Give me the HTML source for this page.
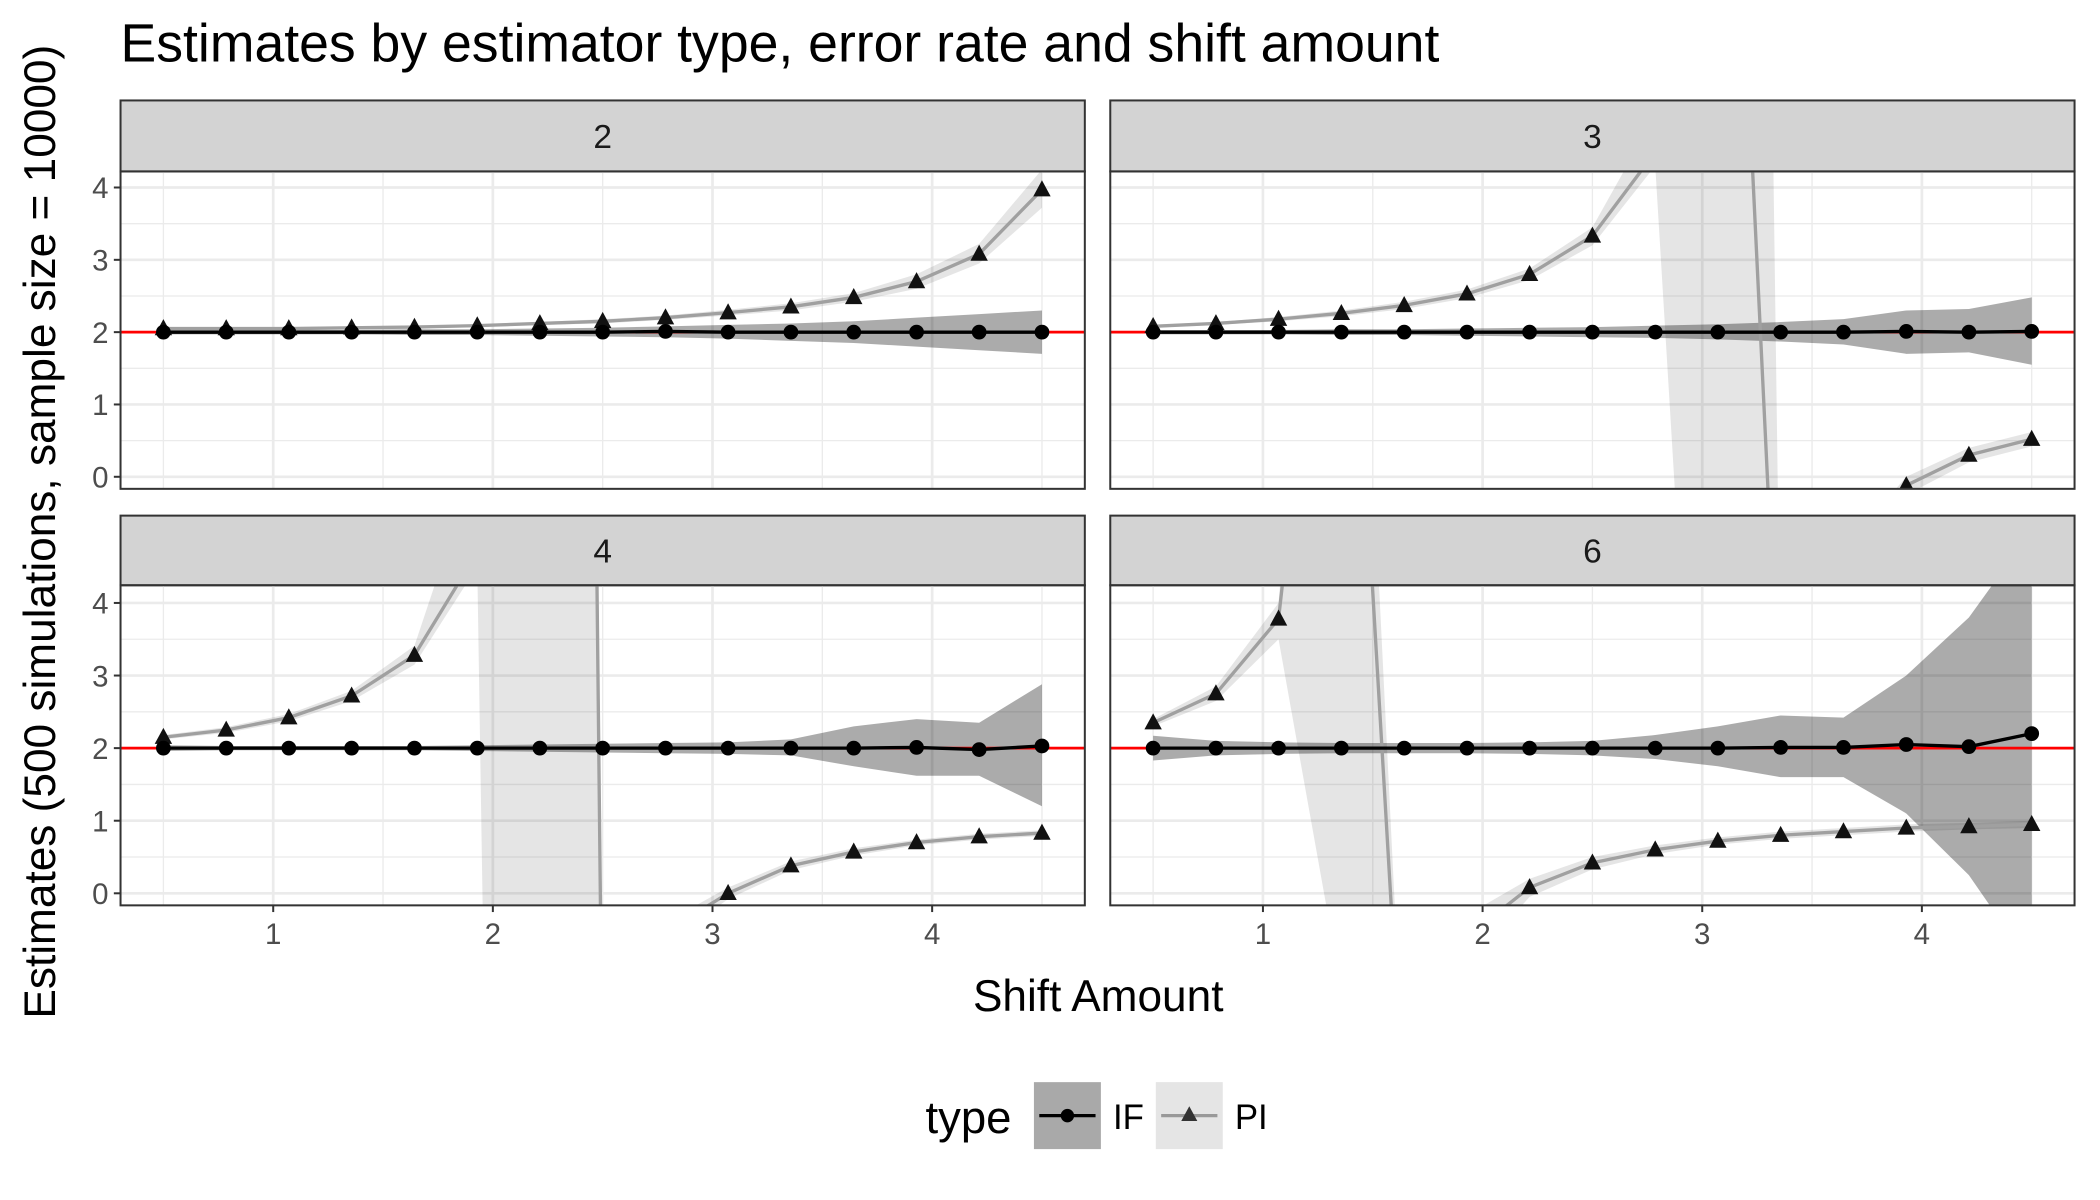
<!DOCTYPE html>
<html><head><meta charset="utf-8"><style>
html,body{margin:0;padding:0;background:#fff;overflow:hidden;width:2100px;height:1200px;}
svg{display:block;}
text{font-family:"Liberation Sans",sans-serif;}
</style></head><body>
<svg id="chart" width="2100" height="1200" viewBox="0 0 1568 896" preserveAspectRatio="none" xmlns="http://www.w3.org/2000/svg">
<rect width="1568" height="896" fill="#fff"/>
<text x="90" y="46" font-size="40" fill="#000">Estimates by estimator type, error rate and shift amount</text>
<text transform="translate(41,397) rotate(-90)" text-anchor="middle" font-size="33" fill="#000">Estimates (500 simulations, sample size = 10000)</text>
<text x="820" y="755" text-anchor="middle" font-size="33" fill="#000">Shift Amount</text>
<g id="panels"></g>
<g>
<text x="691" y="846" font-size="34" fill="#000">type</text>
<rect x="772" y="808" width="50" height="50" fill="#a9a9a9"/>
<line x1="776" y1="833" x2="818" y2="833" stroke="#000" stroke-width="2.5"/>
<circle cx="797" cy="833" r="5" fill="#000"/>
<text x="831" y="843" font-size="26" fill="#000">IF</text>
<rect x="863" y="808" width="50" height="50" fill="#e5e5e5"/>
<line x1="867" y1="833" x2="909" y2="833" stroke="#999" stroke-width="2.5"/>
<polygon points="888,826 894,837 882,837" fill="#333"/>
<text x="922" y="843" font-size="26" fill="#000">PI</text>
</g>
</svg>
<script>
const xs=[0.5,0.786,1.071,1.357,1.643,1.929,2.214,2.5,2.786,3.071,3.357,3.643,3.929,4.214,4.5];
const panelLabels=["2","3","4","6"];
const xTicks=[1,2,3,4];
const yTicks=[0,1,2,3,4];
const refValue=2;

const if2=[2,2,2,2,2,2,2,2,2.01,2,2,2,2,2,2];
const if2Lo=[1.97,1.97,1.97,1.97,1.96,1.96,1.95,1.94,1.93,1.91,1.88,1.85,1.8,1.75,1.7];
const if2Hi=[2.03,2.03,2.03,2.03,2.04,2.04,2.05,2.06,2.08,2.1,2.12,2.15,2.2,2.25,2.3];
const pi2=[2.05,2.05,2.05,2.06,2.07,2.09,2.12,2.15,2.2,2.27,2.35,2.48,2.7,3.08,3.97];
const pi2Lo=[2.03,2.03,2.03,2.04,2.05,2.07,2.1,2.12,2.17,2.23,2.3,2.42,2.6,2.95,3.72];
const pi2Hi=[2.07,2.07,2.07,2.08,2.09,2.11,2.14,2.18,2.23,2.31,2.4,2.54,2.8,3.22,4.25];

const if3=[2,2,2,2,2,2,2,2,2,2,2,2,2.01,2,2.01];
const if3Lo=[1.97,1.97,1.97,1.96,1.96,1.95,1.94,1.93,1.92,1.9,1.87,1.83,1.7,1.72,1.55];
const if3Hi=[2.03,2.03,2.03,2.04,2.04,2.05,2.06,2.07,2.09,2.11,2.14,2.18,2.3,2.32,2.48];
const pi3=[2.08,2.12,2.18,2.26,2.37,2.53,2.8,3.33,4.49,14.2,-3.8,-1.5,-0.12,0.3,0.52];
const pi3Lo=[2.06,2.1,2.15,2.22,2.32,2.47,2.72,3.2,4.3,-10,-5,-2,-0.25,0.2,0.42];
const pi3Hi=[2.1,2.14,2.21,2.3,2.42,2.59,2.88,3.45,5,60,-3,-1,0,0.4,0.62];

const if4=[2,2,2,2,2,2,2,2,2,2,2,2,2.01,1.98,2.03];
const if4Lo=[1.96,1.97,1.97,1.97,1.97,1.96,1.95,1.94,1.93,1.92,1.9,1.75,1.62,1.62,1.2];
const if4Hi=[2.04,2.03,2.03,2.03,2.03,2.04,2.05,2.06,2.07,2.08,2.12,2.3,2.4,2.35,2.88];
const pi4=[2.15,2.25,2.42,2.72,3.28,4.7,77,-3,-0.53,0,0.38,0.57,0.7,0.78,0.83];
const pi4Lo=[2.12,2.21,2.37,2.65,3.15,4.5,-50,-5,-0.7,-0.08,0.32,0.52,0.66,0.74,0.79];
const pi4Hi=[2.18,2.29,2.47,2.79,3.41,6,80,-2,-0.4,0.08,0.44,0.62,0.74,0.82,0.87];

const if6=[2,2,2,2,2,2,2,2,2,2,2.01,2.01,2.05,2.02,2.2];
const if6Lo=[1.83,1.9,1.92,1.93,1.93,1.93,1.92,1.9,1.85,1.75,1.6,1.6,1.1,0.25,-1];
const if6Hi=[2.17,2.1,2.08,2.07,2.07,2.07,2.08,2.1,2.18,2.3,2.45,2.42,3.0,3.8,5];
const pi6=[2.35,2.75,3.78,11.5,-3.2,-0.6,0.08,0.42,0.6,0.72,0.8,0.85,0.9,0.92,0.95];
const pi6Lo=[2.3,2.65,3.5,-1.33,-4,-1,-0.05,0.33,0.54,0.67,0.75,0.8,0.85,0.88,0.9];
const pi6Hi=[2.4,2.85,4.0,14.8,-2.8,-0.3,0.2,0.5,0.66,0.77,0.85,0.9,0.95,0.97,1.0];

const NS="http://www.w3.org/2000/svg";
const root=document.getElementById('panels');
function mk(tag,attrs,parent){const e=document.createElementNS(NS,tag);for(const k in attrs)e.setAttribute(k,attrs[k]);parent.appendChild(e);return e;}

const layouts=[
 {x0:90,x1:810,sy0:75,py0:128,py1:365,zero:356,unit:54,one:204,left:true,bottom:false},
 {x0:829,x1:1549,sy0:75,py0:128,py1:365,zero:356,unit:54,one:943,left:false,bottom:false},
 {x0:90,x1:810,sy0:385,py0:437,py1:676,zero:667,unit:54.2,one:204,left:true,bottom:true},
 {x0:829,x1:1549,sy0:385,py0:437,py1:676,zero:667,unit:54.2,one:943,left:false,bottom:true}];
const series=[[if2,if2Lo,if2Hi,pi2,pi2Lo,pi2Hi],[if3,if3Lo,if3Hi,pi3,pi3Lo,pi3Hi],[if4,if4Lo,if4Hi,pi4,pi4Lo,pi4Hi],[if6,if6Lo,if6Hi,pi6,pi6Lo,pi6Hi]];

layouts.forEach((L,p)=>{
 const X=v=>L.one+(v-1)*164;
 const Y=v=>L.zero-v*L.unit;
 const g=mk('g',{},root);
 
 
 const cid='clip'+p;
 const cp=mk('clipPath',{id:cid},g);
 mk('rect',{x:L.x0,y:L.py0,width:L.x1-L.x0,height:L.py1-L.py0},cp);
 const st=mk('rect',{x:L.x0,y:L.sy0,width:L.x1-L.x0,height:L.py0-L.sy0,fill:'#d3d3d3',stroke:'#333','stroke-width':1.5},g);
 
 
 const stt=mk('text',{x:(L.x0+L.x1)/2,y:(L.sy0+L.py0)/2+9,'text-anchor':'middle','font-size':25,fill:'#1a1a1a'},g);
 stt.textContent=panelLabels[p];
 
 
 const plot=mk('g',{'clip-path':'url(#'+cid+')'},g);
 for(let v=-0.5;v<=4.5;v+=0.5){const major=Number.isInteger(v);
  mk('line',{x1:L.x0,x2:L.x1,y1:Y(v),y2:Y(v),stroke:'#ebebeb','stroke-width':major?2:1},plot);}
 for(let v=0.5;v<=5;v+=0.5){const major=Number.isInteger(v);
  mk('line',{x1:X(v),x2:X(v),y1:L.py0,y2:L.py1,stroke:'#ebebeb','stroke-width':major?2:1},plot);}
 const [fI,fIlo,fIhi,fP,fPlo,fPhi]=series[p];
 function ribbon(lo,hi,op,name){
  let pts=xs.map((x,i)=>X(x)+','+Y(hi[i]));
  pts=pts.concat(xs.map((x,i)=>X(x)+','+Y(lo[i])).reverse());
  const r=mk('polygon',{points:pts.join(' '),fill:'#000','fill-opacity':op},plot);
  
  
 }
 ribbon(fIlo,fIhi,0.33,'if-ribbon');
 ribbon(fPlo,fPhi,0.1,'pi-ribbon');
 const hl=mk('line',{x1:L.x0,x2:L.x1,y1:Y(refValue),y2:Y(refValue),stroke:'#ff0000','stroke-width':2},plot);
 
 
 const lp=mk('polyline',{points:xs.map((x,i)=>X(x)+','+Y(fP[i])).join(' '),fill:'none',stroke:'#a0a0a0','stroke-width':2.5},plot);
 
 
 const li=mk('polyline',{points:xs.map((x,i)=>X(x)+','+Y(fI[i])).join(' '),fill:'none',stroke:'#000','stroke-width':2.5},plot);
 
 
 xs.forEach((x,i)=>{
  const cx=X(x),cy=Y(fP[i]);
  const t=mk('polygon',{points:`${cx},${cy-7} ${cx+6.5},${cy+5} ${cx-6.5},${cy+5}`,fill:'#111'},plot);
  
  
 });
 xs.forEach((x,i)=>{
  const c=mk('circle',{cx:X(x),cy:Y(fI[i]),r:5.5,fill:'#000'},plot);
  
  
 });
 const bd=mk('rect',{x:L.x0,y:L.py0,width:L.x1-L.x0,height:L.py1-L.py0,fill:'none',stroke:'#333','stroke-width':1.5},g);
 
 
 if(L.left){yTicks.forEach(v=>{
  mk('line',{x1:L.x0-5,x2:L.x0,y1:Y(v),y2:Y(v),stroke:'#333','stroke-width':1.5},g);
  const t=mk('text',{x:L.x0-9,y:Y(v)+8,'text-anchor':'end','font-size':22,fill:'#4d4d4d'},g);
  t.textContent=v;
  
  
 });}
 if(L.bottom){xTicks.forEach(v=>{
  mk('line',{x1:X(v),x2:X(v),y1:L.py1,y2:L.py1+5,stroke:'#333','stroke-width':1.5},g);
  const t=mk('text',{x:X(v),y:L.py1+29,'text-anchor':'middle','font-size':22,fill:'#4d4d4d'},g);
  t.textContent=v;
  
  
 });}
});
</script>
</body></html>
